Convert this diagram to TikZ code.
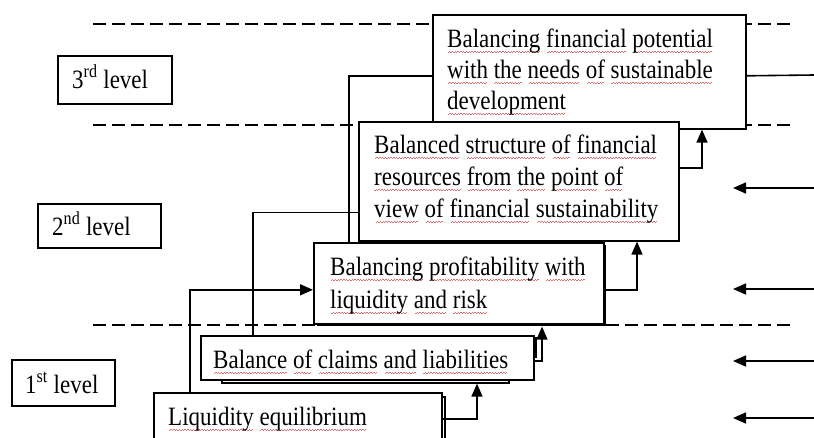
\documentclass[tikz,border=0pt]{standalone}
\usepackage{fontspec}
\setmainfont{Liberation Serif}
\usetikzlibrary{arrows.meta,calc}
\definecolor{wavered}{RGB}{220,110,110}
\newsavebox\sqbox
\newcommand\sq[1]{\sbox\sqbox{#1}\rlap{\textcolor{wavered}{\hbox to \wd\sqbox{\cleaders\hbox{\rule[-4.5pt]{1.4pt}{0.7pt}\rule[-3.6pt]{1.4pt}{0.7pt}}\hfill}}}\usebox\sqbox}
\newcommand\fl{\rule{0pt}{21pt}}
\newcommand\vs[1]{\scalebox{1}[1.15]{#1}}
\begin{document}
\begin{tikzpicture}[x=1pt,y=-1pt,
  box/.style={draw, line width=1.6pt, fill=white, inner sep=0pt, anchor=north west},
  txt/.style={font=\fontsize{23}{32}\selectfont, align=left, inner sep=0pt, anchor=north west},
  lvltxt/.style={font=\fontsize{23}{32}\selectfont, inner sep=0pt, anchor=base west},
  conn/.style={line width=1.6pt},
  arr/.style={conn, -{Triangle[length=13pt,width=11pt]}},
  dashline/.style={line width=1.8pt, dash pattern=on 13pt off 6pt},
  shade/.style={line width=1.3pt}]
\fill[white] (0,0) rectangle (814,437);
\useasboundingbox (0,0) rectangle (814,437);
% dashed level separators
\coordinate (d1a) at (93,24);  \coordinate (d1b) at (795,24);
\coordinate (d2a) at (93,125); \coordinate (d2b) at (795,125);
\coordinate (d3a) at (93,325); \coordinate (d3b) at (795,325);
\draw[dashline] (d1a) -- (d1b);
\draw[dashline] (d2a) -- (d2b);
\draw[dashline] (d3a) -- (d3b);
% level boxes
\node[box, minimum width=114pt, minimum height=48pt] (l3) at (57,55) {};
\node[box, minimum width=123pt, minimum height=44pt] (l2) at (37,203) {};
\node[box, minimum width=103pt, minimum height=46pt] (l1) at (11,359) {};
\node[lvltxt] (l3t) at (72,88) {\vs{3\textsuperscript{rd} level}};
\node[lvltxt] (l2t) at (52,235) {\vs{2\textsuperscript{nd} level}};
\node[lvltxt] (l1t) at (25,393) {\vs{1\textsuperscript{st} level}};
% main boxes
\node[box, minimum width=313pt, minimum height=114pt] (pot) at (432,14) {};
\node[box, minimum width=320pt, minimum height=119pt] (bal) at (358,121) {};
\draw[shade] ($(313,242)+(4,83)$) -- ++(288,0) -- ++(0,-80);
\node[box, minimum width=290pt, minimum height=81pt] (prof) at (313,242) {};
\draw[shade] (222,379) -- (222,383) -- (509,383) -- (509,379);
\draw[shade] (533,338) -- (536,338) -- (536,358);
\node[box, minimum width=333pt, minimum height=44pt] (claims) at (200,335) {};
\draw[shade] (441,397) -- (445,397) -- (445,445);
\node[box, minimum width=288pt, minimum height=60pt] (liq) at (153,392) {};
% texts
\node[txt, font=\fontsize{23}{31}\selectfont] (pott) at (447,26) {\fl\vs{\sq{Balancing} \sq{financial} \sq{potential}}\\\vs{\sq{with} \sq{the} \sq{needs} \sq{of} \sq{sustainable}}\\\vs{\sq{development}}};
\node[txt] (balt) at (374,132) {\fl\vs{\sq{Balanced} \sq{structure} \sq{of} \sq{financial}}\\\vs{\sq{resources} \sq{from} \sq{the} \sq{point} \sq{of}}\\\vs{\sq{view} \sq{of} \sq{financial} \sq{sustainability}}};
\node[txt, font=\fontsize{23}{33}\selectfont] (proft) at (330,254) {\fl\vs{\sq{Balancing} \sq{profitability} \sq{with}}\\\vs{\sq{liquidity} \sq{and} \sq{risk}}};
\node[txt] (claimst) at (213,347) {\fl\vs{\sq{Balance} \sq{of} \sq{claims} \sq{and} \sq{liabilities}}};
\node[txt] (liqt) at (168,404) {\fl\vs{\sq{Liquidity} \sq{equilibrium}}};
% connectors
\draw[conn] ([yshift=-4pt]pot.west) -| (prof.north -| 349,0);
\coordinate (potR) at (814,75);
\draw[conn] ([yshift=-4pt]pot.east) -- (potR);
\draw[conn] ([yshift=-31pt]bal.west) -| (claims.north -| 253,0);
\draw[arr] ([yshift=13.5pt]bal.east) -| (pot.south -| 702,0);
\draw[arr] ([yshift=-6.5pt]prof.east) -| (bal.south -| 637,0);
\draw[arr] (liq.north -| 190,0) |- ([yshift=-6.5pt]prof.west);
\draw[arr] ([yshift=-3pt]claims.east) -| ($(prof.south -| 542,0)+(0,2)$);
\draw[arr] ([yshift=4pt]liq.east) -| ($(claims.south -| 477,0)+(0,3)$);
% external influences
\coordinate (e1s) at (814,188); \coordinate (e1t) at (733,188);
\coordinate (e2s) at (814,289); \coordinate (e2t) at (733,289);
\coordinate (e3s) at (814,361); \coordinate (e3t) at (733,361);
\coordinate (e4s) at (814,418); \coordinate (e4t) at (733,418);
\draw[arr] (e1s) -- (e1t);
\draw[arr] (e2s) -- (e2t);
\draw[arr] (e3s) -- (e3t);
\draw[arr] (e4s) -- (e4t);
\end{tikzpicture}
\end{document}
